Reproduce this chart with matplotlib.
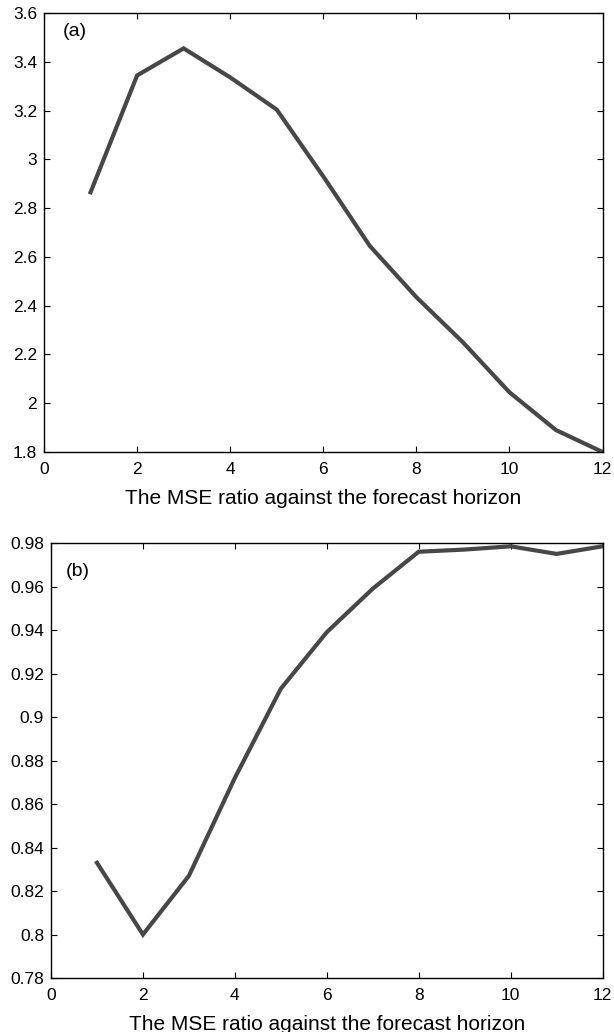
import matplotlib
matplotlib.use("Agg")
import matplotlib.pyplot as plt

horizon = [1, 2, 3, 4, 5, 6, 7, 8, 9, 10, 11, 12]
ratio_a = [2.865, 3.344, 3.455, 3.336, 3.204, 2.93, 2.645, 2.435, 2.25, 2.045, 1.89, 1.80]
ratio_b = [0.833, 0.800, 0.827, 0.872, 0.913, 0.939, 0.959, 0.976, 0.977, 0.9785, 0.975, 0.9785]
xlabel = "The MSE ratio against the forecast horizon"

plt.rcParams['font.family'] = ['Liberation Sans', 'DejaVu Sans']

fig = plt.figure(figsize=(6.14, 10.32), dpi=100)
ax1 = fig.add_axes([0.0717, 0.562, 0.9096, 0.4254])
ax2 = fig.add_axes([0.0831, 0.0523, 0.8982, 0.4215])

color = '#474747'
for ax, y, lab, ylim, yticks, pos in [
    (ax1, ratio_a, '(a)', (1.8, 3.6), [1.8, 2, 2.2, 2.4, 2.6, 2.8, 3, 3.2, 3.4, 3.6], (0.034, 0.978)),
    (ax2, ratio_b, '(b)', (0.78, 0.98), [0.78, 0.8, 0.82, 0.84, 0.86, 0.88, 0.9, 0.92, 0.94, 0.96, 0.98], (0.026, 0.955)),
]:
    ax.plot(horizon, y, color=color, lw=3.0, solid_joinstyle='miter')
    ax.set_xlim(0, 12)
    ax.set_ylim(*ylim)
    ax.set_xticks([0, 2, 4, 6, 8, 10, 12])
    ax.set_yticks(yticks)
    ax.set_yticklabels([('%g' % v) for v in yticks])
    ax.tick_params(direction='in', top=True, right=True, labelsize=12.5, length=4, width=0.8)
    ax.tick_params(axis='x', pad=7.5)
    ax.tick_params(axis='y', pad=5)
    for s in ax.spines.values():
        s.set_linewidth(1.0)
    ax.set_xlabel(xlabel, fontsize=15, labelpad=8)
    ax.text(pos[0], pos[1], lab, transform=ax.transAxes, fontsize=14, va='top', ha='left')

fig.savefig('out.png', dpi=100)
